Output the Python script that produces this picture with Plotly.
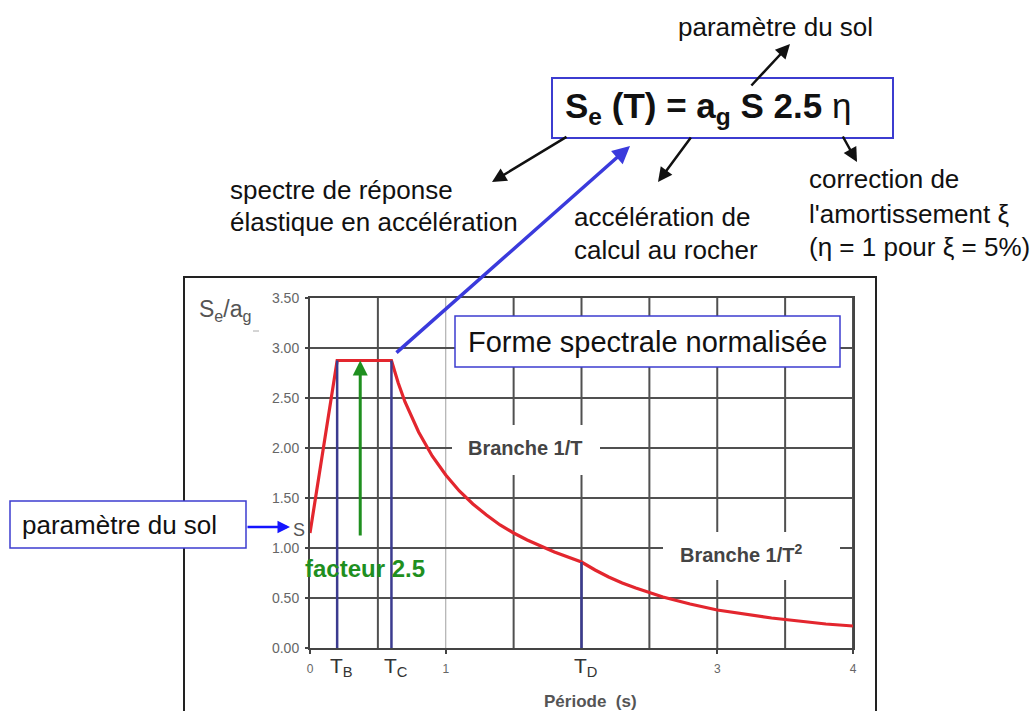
import plotly.graph_objects as go

# ---------------- data ----------------
period = [0, 0.2, 0.6, 0.65, 0.7, 0.75, 0.8, 0.9, 1.0, 1.1, 1.2, 1.3, 1.4, 1.5, 1.6, 1.8, 1.9, 2.0,
          2.1, 2.2, 2.3, 2.4, 2.6, 2.8, 3.0, 3.2, 3.4, 3.6, 3.8, 4.0]
se_ag = [1.15, 2.875, 2.875, 2.65, 2.46, 2.30, 2.16, 1.92, 1.73, 1.57, 1.44, 1.33, 1.23, 1.15, 1.08, 0.96, 0.91, 0.86,
         0.78, 0.71, 0.65, 0.60, 0.51, 0.44, 0.38, 0.34, 0.30, 0.27, 0.24, 0.22]
corner_periods = [0.2, 0.6, 2.0]
corner_values = [2.875, 2.875, 0.86]
corner_labels = ["T<sub>B</sub>", "T<sub>C</sub>", "T<sub>D</sub>"]
x_tick_vals = [0, 1, 3, 4]
x_tick_text = ["0", "1", "3", "4"]
x_grid_vals = [0.5, 1.0, 1.5, 2.0, 2.5, 3.0, 3.5, 4.0]
y_tick_vals = [0, 0.5, 1.0, 1.5, 2.0, 2.5, 3.0, 3.5]
soil_param = 1.15
factor_T = 0.37
factor_from = 1.11
factor_to = 2.875

# ---------------- layout geometry ----------------
W, H = 1036, 711
L, R, T, B = 310, 853, 298, 648
PW, PH = R - L, B - T
FONT = "Liberation Sans, Arial, sans-serif"


def px(x):
    return (x - L) / PW


def py(y):
    return (B - y) / PH


fig = go.Figure()

# red spectrum
fig.add_trace(go.Scatter(x=period, y=se_ag, mode="lines",
                         line=dict(color="#e3262e", width=3.2), hoverinfo="skip"))

# corner period lines
for tp, v in zip(corner_periods, corner_values):
    fig.add_trace(go.Scatter(x=[tp, tp], y=[0, v], mode="lines",
                             line=dict(color="#3b3b8f", width=2.5), hoverinfo="skip"))

shapes = []
# vertical grid lines (data coords)
for xv in x_grid_vals:
    light = abs(xv - 1.0) < 1e-9
    shapes.append(dict(type="line", xref="x", yref="y", x0=xv, x1=xv, y0=0, y1=3.5,
                       layer="below",
                       line=dict(color="#a0a0a0" if light else "#505050", width=1 if light else 2)))

# outer frame
shapes.append(dict(type="rect", xref="paper", yref="paper",
                   x0=px(184), x1=px(876), y0=py(730), y1=py(277),
                   line=dict(color="#222222", width=2), layer="below"))
# small dash near Se/ag
shapes.append(dict(type="line", xref="paper", yref="paper",
                   x0=px(253), x1=px(259), y0=py(331), y1=py(331),
                   line=dict(color="#aaaaaa", width=1)))
# formula box
shapes.append(dict(type="rect", xref="paper", yref="paper",
                   x0=px(552), x1=px(893), y0=py(138), y1=py(78),
                   line=dict(color="#3c3cd0", width=2), fillcolor="white"))
# left box
shapes.append(dict(type="rect", xref="paper", yref="paper",
                   x0=px(10), x1=px(246), y0=py(548), y1=py(501),
                   line=dict(color="#3c3cd0", width=1.5), fillcolor="white"))
# Forme spectrale box
shapes.append(dict(type="rect", xref="paper", yref="paper",
                   x0=px(455), x1=px(840), y0=py(367), y1=py(316),
                   line=dict(color="#3c3cd0", width=1.5), fillcolor="white", layer="above"))
# white backgrounds of branch labels
shapes.append(dict(type="rect", xref="paper", yref="paper",
                   x0=px(452), x1=px(600), y0=py(475), y1=py(425),
                   line=dict(width=0), fillcolor="white", layer="above"))
shapes.append(dict(type="rect", xref="paper", yref="paper",
                   x0=px(663), x1=px(840), y0=py(580), y1=py(532),
                   line=dict(width=0), fillcolor="white", layer="above"))

ann = []


def text(x, y, s, size, color="#111111", anchor="center", bold=False):
    ann.append(dict(xref="paper", yref="paper", x=px(x), y=py(y), text=(f"<b>{s}</b>" if bold else s),
                    showarrow=False, xanchor=anchor, yanchor="middle",
                    font=dict(family=FONT, size=size, color=color)))


def arrow(hx, hy, tx, ty, color="#111111", width=2.5, size=1.15):
    ann.append(dict(xref="paper", yref="paper", x=px(hx), y=py(hy), ax=tx - hx, ay=ty - hy,
                    axref="pixel", ayref="pixel", text="", showarrow=True,
                    arrowhead=2, arrowsize=size, arrowwidth=width, arrowcolor=color, standoff=0))


# top annotations
text(775, 27, "paramètre du sol", 26)
text(563, 108, "<b>S<sub>e</sub> (T) = a<sub>g</sub> S 2.5</b> η", 35, anchor="left")
text(228, 190, "spectre de réponse", 26, anchor="left")
text(228, 222, "élastique en accélération", 26, anchor="left")
text(572, 217, "accélération de", 26, anchor="left")
text(572, 250, "calcul au rocher", 26, anchor="left")
text(807, 179, "correction de", 26, anchor="left")
text(807, 214, "l'amortissement ξ", 26, anchor="left")
text(807, 247, "(η = 1 pour ξ = 5%)", 26, anchor="left")

arrow(790, 44, 750, 87)
arrow(492, 182, 568, 136)
arrow(658, 182, 692, 136)
arrow(857, 162, 842, 135)
arrow(630, 146, 395, 354, color="#3a3adc", width=3.5, size=1)

# chart annotations
text(647, 342, "Forme spectrale normalisée", 29)
text(525, 448, "Branche 1/T", 20, color="#444444", bold=True)
text(741, 553, "Branche 1/T<sup>2</sup>", 20, color="#444444", bold=True)
text(119, 525, "paramètre du sol", 26)
arrow(290, 527, 246, 527, color="#1414ff", width=2.5, size=1)
text(225, 310, "S<sub>e</sub>/a<sub>g</sub>", 23, color="#555555")
text(365, 568, "facteur 2.5", 24, color="#1f8f1f", bold=True)
text(590, 701, "Période  (s)", 17, color="#555555", bold=True)

# S label on the y axis at the soil parameter value
ann.append(dict(xref="paper", yref="y", x=px(299), y=soil_param + 0.03, text="S", showarrow=False,
                xanchor="center", yanchor="middle", font=dict(family=FONT, size=18, color="#555555")))

# corner period labels
for tp, lab in zip(corner_periods, corner_labels):
    ann.append(dict(xref="x", yref="paper", x=tp + 0.03, y=py(667), text=lab, showarrow=False,
                    xanchor="center", yanchor="middle", font=dict(family=FONT, size=21, color="#333333")))

# green factor arrow
ann.append(dict(xref="x", yref="y", x=factor_T, y=factor_to, ax=factor_T, ay=factor_from,
                axref="x", ayref="y", text="", showarrow=True, arrowhead=2, arrowsize=1,
                arrowwidth=3, arrowcolor="#1f8f1f", standoff=0))

fig.update_layout(
    width=W, height=H,
    margin=dict(l=L, r=W - R, t=T, b=H - B),
    paper_bgcolor="white", plot_bgcolor="white",
    showlegend=False,
    shapes=shapes, annotations=ann,
    font=dict(family=FONT),
)
fig.update_xaxes(range=[0, 4], tickvals=x_tick_vals, ticktext=x_tick_text, showgrid=False,
                 zeroline=False, showline=True, linecolor="#444444", linewidth=2, mirror=True,
                 ticks="outside", ticklen=4, tickcolor="#444444", tickwidth=1.5,
                 tickfont=dict(family=FONT, size=12, color="#666666"), ticklabelstandoff=5)
fig.update_yaxes(range=[0, 3.5], tickvals=y_tick_vals, tickformat=".2f", showgrid=True,
                 gridcolor="#505050", gridwidth=2, zeroline=False, showline=True,
                 linecolor="#444444", linewidth=2, mirror=True,
                 ticks="outside", ticklen=3, tickcolor="#444444", tickwidth=1.5,
                 tickfont=dict(family=FONT, size=14, color="#666666"), ticklabelstandoff=3)

fig.write_html("out.html", config={"displayModeBar": False},
               post_script="document.body.style.margin='0';document.body.style.overflow='hidden';")
